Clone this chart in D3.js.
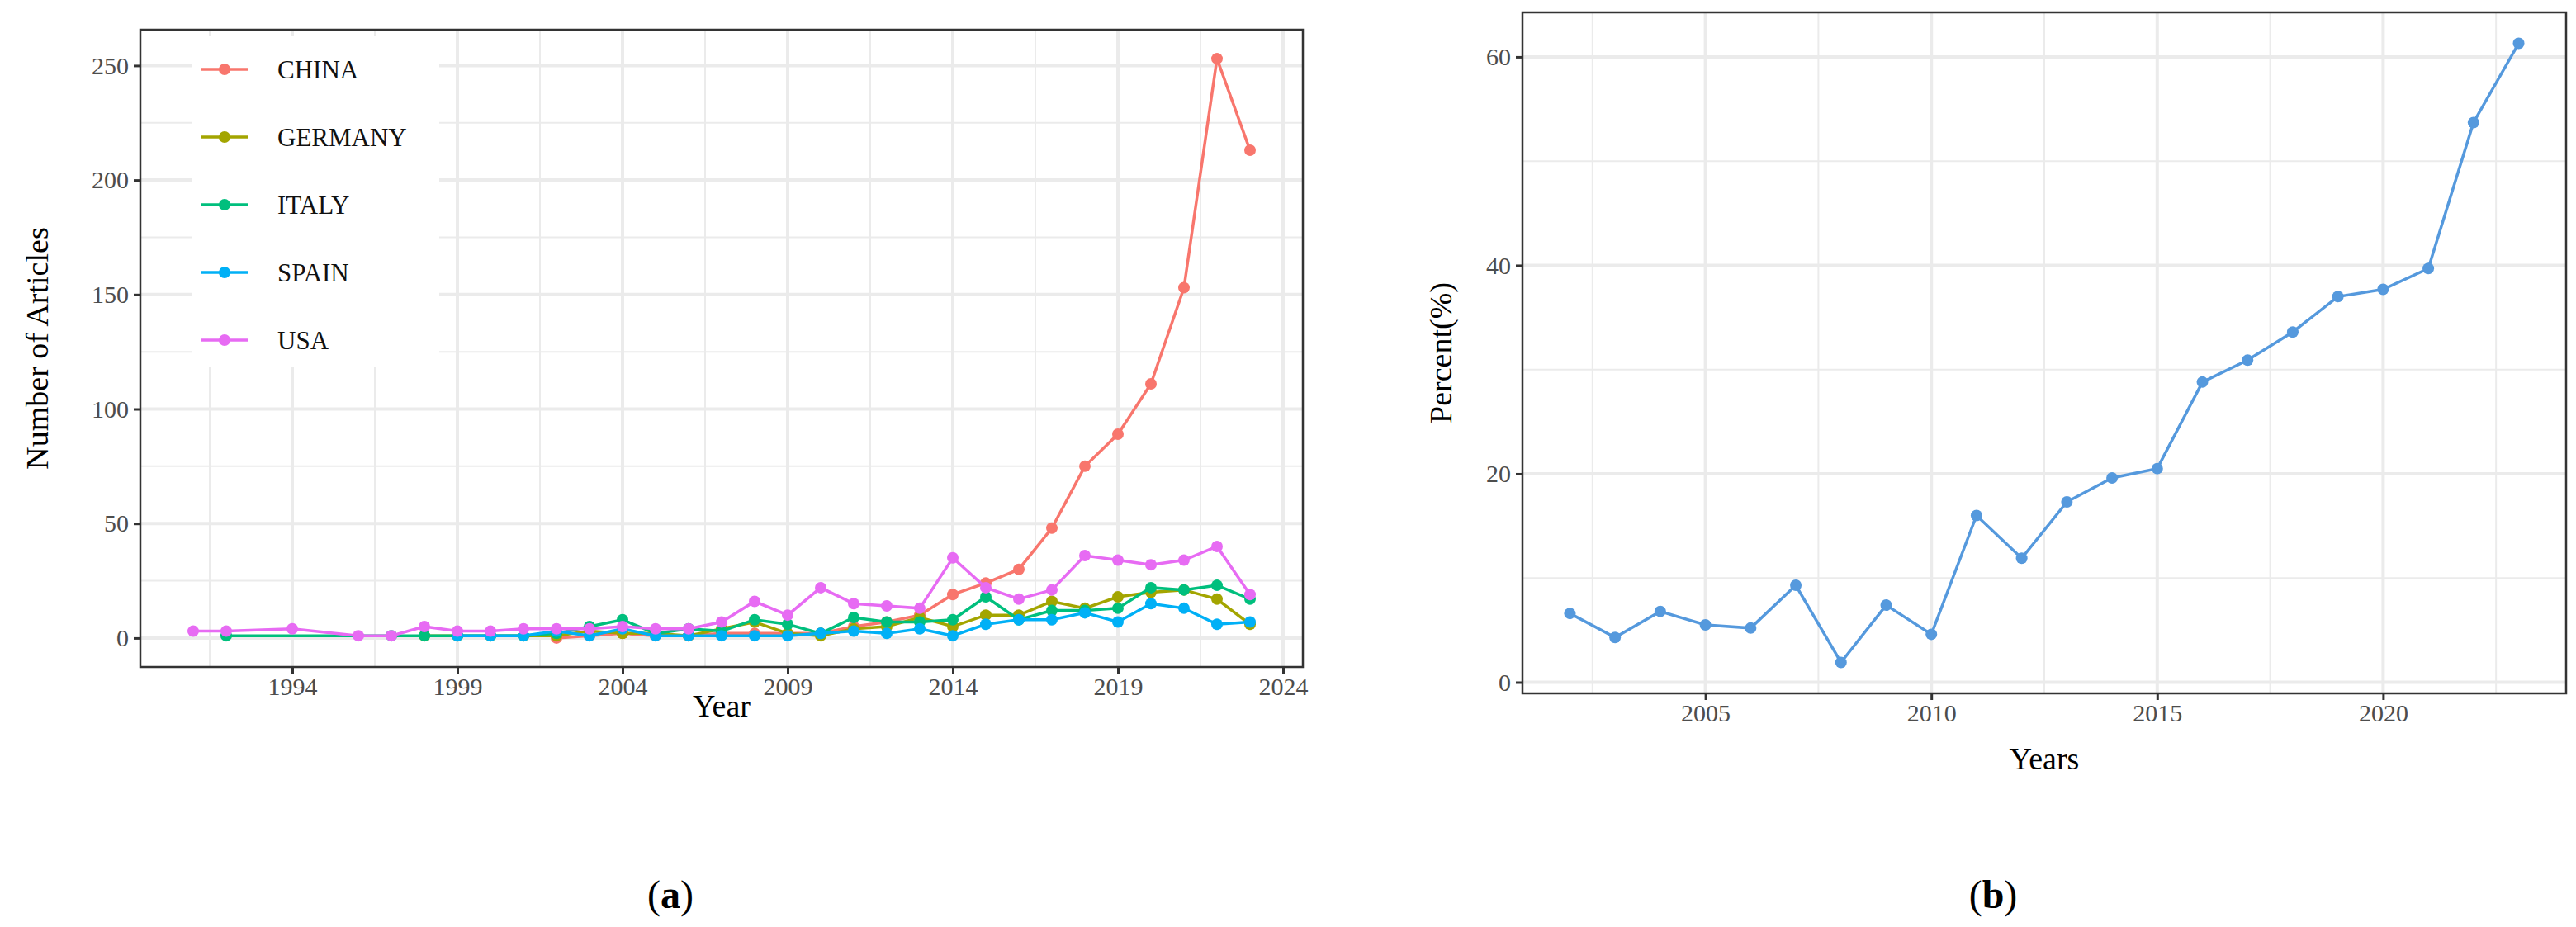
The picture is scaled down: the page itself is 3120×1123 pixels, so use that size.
<!DOCTYPE html>
<html>
<head>
<meta charset="utf-8">
<script src="https://cdn.jsdelivr.net/npm/d3@7"></script>
<style>
  body { margin: 0; background: #fff; }
  text { font-family: "Liberation Serif", "DejaVu Serif", serif; }
</style>
</head>
<body>
<svg id="chart" width="3120" height="1123"></svg>
<script>
'use strict';

// panel (a): number of articles per country
const countries = ['CHINA', 'GERMANY', 'ITALY', 'SPAIN', 'USA'];
const countryColors = ['#F8766D', '#A3A500', '#00BF7D', '#00B0F6', '#E76BF3'];

const chinaYears = [2002, 2003, 2004, 2005, 2006, 2007, 2008, 2009, 2010, 2011, 2012, 2013, 2014, 2015, 2016, 2017, 2018, 2019, 2020, 2021, 2022, 2023];
const chinaValues = [0, 1, 2, 1, 1, 2, 2, 2, 2, 5, 7, 10, 19, 24, 30, 48, 75, 89, 111, 153, 253, 213];

const germanyYears = [1998, 1999, 2000, 2001, 2002, 2003, 2004, 2005, 2006, 2007, 2008, 2009, 2010, 2011, 2012, 2013, 2014, 2015, 2016, 2017, 2018, 2019, 2020, 2021, 2022, 2023];
const germanyValues = [1, 1, 1, 1, 1, 3, 2, 2, 1, 4, 7, 2, 1, 4, 5, 9, 5, 10, 10, 16, 13, 18, 20, 21, 17, 6];

const italyYears = [1992, 1997, 1998, 1999, 2000, 2001, 2002, 2003, 2004, 2005, 2006, 2007, 2008, 2009, 2010, 2011, 2012, 2013, 2014, 2015, 2016, 2017, 2018, 2019, 2020, 2021, 2022, 2023];
const italyValues = [1, 1, 1, 1, 1, 1, 2, 5, 8, 2, 4, 3, 8, 6, 2, 9, 7, 7, 8, 18, 8, 12, 12, 13, 22, 21, 23, 17];

const spainYears = [1999, 2000, 2001, 2002, 2003, 2004, 2005, 2006, 2007, 2008, 2009, 2010, 2011, 2012, 2013, 2014, 2015, 2016, 2017, 2018, 2019, 2020, 2021, 2022, 2023];
const spainValues = [1, 1, 1, 3, 1, 4, 1, 1, 1, 1, 1, 2, 3, 2, 4, 1, 6, 8, 8, 11, 7, 15, 13, 6, 7];

const usaYears = [1991, 1992, 1994, 1996, 1997, 1998, 1999, 2000, 2001, 2002, 2003, 2004, 2005, 2006, 2007, 2008, 2009, 2010, 2011, 2012, 2013, 2014, 2015, 2016, 2017, 2018, 2019, 2020, 2021, 2022, 2023];
const usaValues = [3, 3, 4, 1, 1, 5, 3, 3, 4, 4, 4, 5, 4, 4, 7, 16, 10, 22, 15, 14, 13, 35, 22, 17, 21, 36, 34, 32, 34, 40, 19];

const leftXTicks = [1994, 1999, 2004, 2009, 2014, 2019, 2024];
const leftYTicks = [0, 50, 100, 150, 200, 250];

// panel (b): percent per year
const pctYears = [2002, 2003, 2004, 2005, 2006, 2007, 2008, 2009, 2010, 2011, 2012, 2013, 2014, 2015, 2016, 2017, 2018, 2019, 2020, 2021, 2022, 2023];
const pctValues = [6.6, 4.3, 6.8, 5.5, 5.2, 9.3, 1.9, 7.4, 4.6, 16.0, 11.9, 17.3, 19.6, 20.5, 28.8, 30.9, 33.6, 37.0, 37.7, 39.7, 53.7, 61.3];
const rightXTicks = [2005, 2010, 2015, 2020];
const rightYTicks = [0, 20, 40, 60];

const seriesYears = [chinaYears, germanyYears, italyYears, spainYears, usaYears];
const seriesValues = [chinaValues, germanyValues, italyValues, spainValues, usaValues];

const svg = d3.select('#chart');

const drawPanel = (opts) => {
  const { left, right, top, bottom, xDomain, yDomain, xTicks, yTicks, xMinor, yMinor } = opts;
  const x = d3.scaleLinear().domain(xDomain).range([left, right]);
  const y = d3.scaleLinear().domain(yDomain).range([bottom, top]);
  const g = svg.append('g');

  const grid = (vals, w, horizontal) => {
    g.append('g').selectAll('line').data(vals).enter().append('line')
      .attr('x1', d => horizontal ? left : x(d))
      .attr('x2', d => horizontal ? right : x(d))
      .attr('y1', d => horizontal ? y(d) : top)
      .attr('y2', d => horizontal ? y(d) : bottom)
      .attr('stroke', '#EBEBEB')
      .attr('stroke-width', w);
  };
  grid(xMinor.filter(v => v > xDomain[0] && v < xDomain[1]), 2, false);
  grid(yMinor.filter(v => v > yDomain[0] && v < yDomain[1]), 2, true);
  grid(xTicks.filter(v => v >= xDomain[0] && v <= xDomain[1]), 4, false);
  grid(yTicks, 4, true);

  const xAxis = g.append('g')
    .attr('transform', `translate(0, ${bottom})`)
    .call(d3.axisBottom(x).tickValues(xTicks).tickFormat(d3.format('d')).tickSize(8).tickPadding(5));
  const yAxis = g.append('g')
    .attr('transform', `translate(${left}, 0)`)
    .call(d3.axisLeft(y).tickValues(yTicks).tickSize(8).tickPadding(6));
  [xAxis, yAxis].forEach(a => {
    a.select('.domain').remove();
    a.selectAll('line').attr('stroke', '#333').attr('stroke-width', 3);
    a.selectAll('text').attr('fill', '#4d4d4d').style('font-size', '30px')
      .style('font-family', '"Liberation Serif", serif');
  });

  return { g, x, y };
};

const frame = (p, left, right, top, bottom) => {
  p.g.append('rect')
    .attr('x', left).attr('y', top)
    .attr('width', right - left).attr('height', bottom - top)
    .attr('fill', 'none').attr('stroke', '#333').attr('stroke-width', 2.5);
};

// ---- panel (a)
const aL = 170, aR = 1578, aT = 36, aB = 808;
const pa = drawPanel({
  left: aL, right: aR, top: aT, bottom: aB,
  xDomain: [1989.4, 2024.6], yDomain: [-12.65, 265.65],
  xTicks: leftXTicks, yTicks: leftYTicks,
  xMinor: leftXTicks.map(v => v - 2.5).concat([2026.5]),
  yMinor: [25, 75, 125, 175, 225],
});

const line = (xs, ys, px) => d3.line().x((d, i) => px.x(xs[i])).y(d => px.y(d))(ys);

seriesValues.forEach((vals, k) => {
  const yrs = seriesYears[k];
  pa.g.append('path')
    .attr('d', line(yrs, vals, pa))
    .attr('fill', 'none').attr('stroke', countryColors[k]).attr('stroke-width', 3.5);
  pa.g.append('g').selectAll('circle').data(vals).enter().append('circle')
    .attr('cx', (d, i) => pa.x(yrs[i]))
    .attr('cy', d => pa.y(d))
    .attr('r', 7)
    .attr('fill', countryColors[k]);
});
frame(pa, aL, aR, aT, aB);

// legend
const legend = pa.g.append('g');
legend.append('rect')
  .attr('x', 232).attr('y', 44).attr('width', 300).attr('height', 400).attr('fill', '#fff');
countries.forEach((c, i) => {
  const ly = 84 + i * 82;
  legend.append('line')
    .attr('x1', 244).attr('x2', 300).attr('y1', ly).attr('y2', ly)
    .attr('stroke', countryColors[i]).attr('stroke-width', 3.5);
  legend.append('circle').attr('cx', 272).attr('cy', ly).attr('r', 7).attr('fill', countryColors[i]);
  legend.append('text')
    .attr('x', 336).attr('y', ly + 11)
    .style('font-size', '31px').attr('fill', '#111')
    .text(c);
});

svg.append('text')
  .attr('x', (aL + aR) / 2).attr('y', 868)
  .attr('text-anchor', 'middle').style('font-size', '38px').text('Year');
svg.append('text')
  .attr('transform', `translate(58, ${(aT + aB) / 2}) rotate(-90)`)
  .attr('text-anchor', 'middle').style('font-size', '38px').text('Number of Articles');

// ---- panel (b)
const bL = 1844, bR = 3108, bT = 15, bB = 840;
const pb = drawPanel({
  left: bL, right: bR, top: bT, bottom: bB,
  xDomain: [2000.95, 2024.05], yDomain: [-1.07, 64.27],
  xTicks: rightXTicks, yTicks: rightYTicks,
  xMinor: [2002.5, 2007.5, 2012.5, 2017.5, 2022.5],
  yMinor: [10, 30, 50],
});
pb.g.append('path')
  .attr('d', line(pctYears, pctValues, pb))
  .attr('fill', 'none').attr('stroke', '#5599DD').attr('stroke-width', 3.5);
pb.g.append('g').selectAll('circle').data(pctValues).enter().append('circle')
  .attr('cx', (d, i) => pb.x(pctYears[i]))
  .attr('cy', d => pb.y(d))
  .attr('r', 7)
  .attr('fill', '#5599DD');
frame(pb, bL, bR, bT, bB);

svg.append('text')
  .attr('x', (bL + bR) / 2).attr('y', 932)
  .attr('text-anchor', 'middle').style('font-size', '38px').text('Years');
svg.append('text')
  .attr('transform', `translate(1758, ${(bT + bB) / 2}) rotate(-90)`)
  .attr('text-anchor', 'middle').style('font-size', '38px').text('Percent(%)');

// panel labels
[['a', 812], ['b', 2414]].forEach(([t, cx]) => {
  const lab = svg.append('text').attr('x', cx).attr('y', 1100)
    .attr('text-anchor', 'middle').style('font-size', '48px');
  lab.append('tspan').text('(');
  lab.append('tspan').attr('font-weight', 'bold').text(t);
  lab.append('tspan').text(')');
});
</script>
</body>
</html>
